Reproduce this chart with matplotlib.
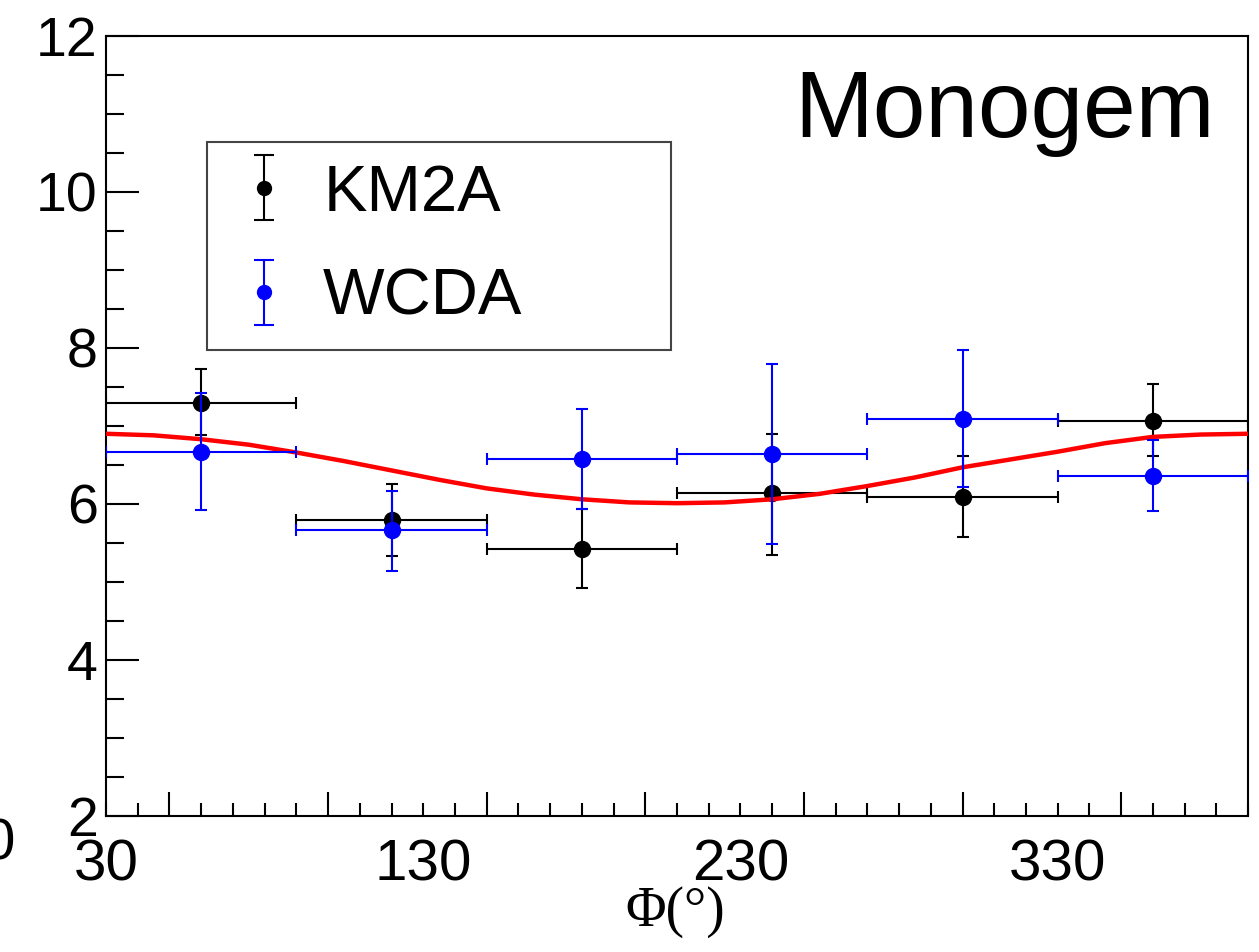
import numpy as np
import matplotlib
matplotlib.use('Agg')
import matplotlib.pyplot as plt
from matplotlib.ticker import MultipleLocator

plt.rcParams['font.family'] = ['Liberation Sans', 'DejaVu Sans']

# Bin centres and half-widths in Phi (deg)
phi = [60, 120, 180, 240, 300, 360]
phi_err = [30, 30, 30, 30, 30, 30]

# KM2A points
km2a = [7.30, 5.80, 5.42, 6.14, 6.09, 7.07]
km2a_lo = [0.42, 0.47, 0.50, 0.79, 0.51, 0.45]
km2a_hi = [0.43, 0.45, 0.52, 0.76, 0.53, 0.47]

# WCDA points
wcda = [6.66, 5.66, 6.58, 6.64, 7.09, 6.36]
wcda_lo = [0.74, 0.52, 0.64, 1.15, 0.87, 0.45]
wcda_hi = [0.76, 0.51, 0.64, 1.16, 0.88, 0.46]

# fit curve
fit_phi = [30, 45, 60, 75, 90, 105, 120, 135, 150, 165, 180, 195, 210,
           225, 240, 255, 270, 285, 300, 315, 330, 345, 360, 375, 390]
fit_val = [6.90, 6.88, 6.83, 6.76, 6.66, 6.55, 6.43, 6.31, 6.20, 6.12, 6.06, 6.02, 6.01,
           6.02, 6.06, 6.13, 6.23, 6.34, 6.47, 6.57, 6.67, 6.78, 6.86, 6.89, 6.90]

fig = plt.figure(figsize=(12.59, 9.52), dpi=100)
ax = fig.add_axes([0.0842, 0.1429, 0.9071, 0.8193])

ax.errorbar(phi, km2a, xerr=phi_err, yerr=[km2a_lo, km2a_hi], fmt='o', color='black',
            ms=11.5, elinewidth=1.5, capsize=4, capthick=1.5, zorder=2)
ax.plot(fit_phi, fit_val, color='red', lw=3.2, zorder=3)
ax.errorbar(phi, wcda, xerr=phi_err, yerr=[wcda_lo, wcda_hi], fmt='o', color='blue',
            ms=11.5, elinewidth=1.5, capsize=4, capthick=1.5, zorder=4)

ax.set_xlim(30, 390)
ax.set_ylim(2, 12)

for s in ax.spines.values():
    s.set_linewidth(1.5)

# y axis
ax.yaxis.set_major_locator(MultipleLocator(2))
ax.yaxis.set_minor_locator(MultipleLocator(0.5))
ax.tick_params(axis='y', which='major', direction='in', length=24, width=1.5,
               labelsize=40, pad=6)
ax.tick_params(axis='y', which='minor', direction='in', length=13, width=1.5)
ax.tick_params(right=False, top=False)

# x axis: ticks every 50/10, labels on a separate axis
ax.xaxis.set_major_locator(MultipleLocator(50))
ax.xaxis.set_minor_locator(MultipleLocator(10))
ax.tick_params(axis='x', which='major', direction='in', length=17, width=1.5,
               labelbottom=False)
ax.tick_params(axis='x', which='minor', direction='in', length=9.5, width=1.5)

sec = ax.secondary_xaxis('bottom')
sec.set_xticks([30, 130, 230, 330])
sec.tick_params(length=0, labelsize=42, pad=16)
sec.spines['bottom'].set_visible(False)

ax.text(0.971, 0.8705, 'Monogem', transform=ax.transAxes, ha='right',
        va='baseline', fontsize=68)

fig.text(675 / 1259, 1 - 912 / 952, 'Φ(°)', ha='center', va='center',
         fontsize=40, family=['Liberation Serif', 'DejaVu Serif'])
fig.text(15 / 1259, 1 - 845 / 952, '0', ha='right', va='center', fontsize=42)

# legend proxies
h1 = ax.errorbar([np.nan], [np.nan], yerr=[1], fmt='o', color='black', ms=10,
                 elinewidth=1.5, capsize=7, capthick=1.5)
h2 = ax.errorbar([np.nan], [np.nan], yerr=[1], fmt='o', color='blue', ms=10,
                 elinewidth=1.5, capsize=7, capthick=1.5)
leg = ax.legend([h1, h2], ['KM2A', 'WCDA'], loc='upper left',
                bbox_to_anchor=(0.0884, 0.604, 0.406, 0.26), mode='expand',
                borderaxespad=0, fontsize=47,
                fancybox=False, edgecolor='#444444', framealpha=1,
                handlelength=1.1, handletextpad=0.35, labelspacing=0.68,
                borderpad=0.33)
leg.get_frame().set_linewidth(1.5)

fig.savefig('out.png', dpi=100)
